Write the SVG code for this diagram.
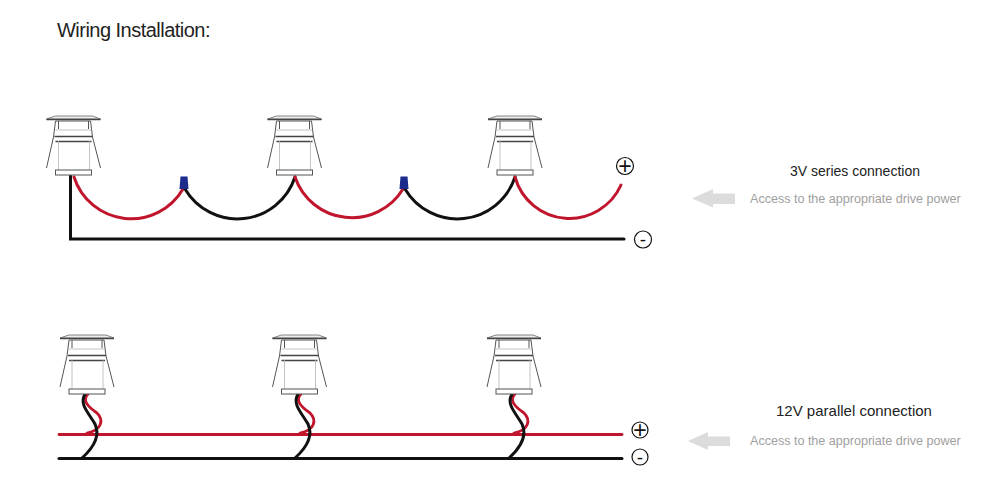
<svg xmlns="http://www.w3.org/2000/svg" width="1000" height="489" viewBox="0 0 1000 489">
<style>
text{font-family:"Liberation Sans",Arial,sans-serif}
.title{font-size:20px;fill:#222;letter-spacing:-.52px}
.head{font-size:14px;fill:#222}
.sub{font-size:12.6px;fill:#a0a0a0;letter-spacing:-.02px}
.plus{font-size:23px;fill:#111;text-anchor:middle}
.minus{font-size:19px;fill:#111;text-anchor:middle}
.ring{fill:#fff;stroke:#111;stroke-width:1.2}
.red{fill:none;stroke:#c0152c;stroke-width:3;stroke-linecap:round}
.blk{fill:none;stroke:#111;stroke-width:3;stroke-linecap:round}
.wr{fill:none;stroke:#c0152c;stroke-width:2.800;stroke-linecap:round}
.wb{fill:none;stroke:#111;stroke-width:3;stroke-linecap:round}
.arrow{fill:#dcdcdc}
.cap{fill:#1c2a8c}
.l1{fill:none;stroke:#555;stroke-width:1}
.l2{fill:none;stroke:#b4b4b4;stroke-width:.8}
.l3{fill:none;stroke:#444;stroke-width:1.300}
</style>
<defs>
<symbol id="lamp" overflow="visible" width="1" height="1">
<path d="M-27 3L-18 0H19L27 3Z" fill="#eee" stroke="#666" stroke-width=".8"/>
<path d="M-27 3.500H27" class="l3"/>
<path d="M-18 5H17" class="l1"/>
<path d="M-18 5L-20 21M17 5L19 21M-15 5V13M15 5V13" class="l1"/>
<path d="M-18 14H18" class="l2"/>
<path d="M-19 20.500H19M-18 25.500H18" class="l3"/>
<path d="M-20 21L-27 52M19 21L27 52" class="l1"/>
<path d="M-15 25V54M16 25V54" class="l2"/>
<rect x="-18" y="54" width="36" height="5" fill="#fff" stroke="#555" stroke-width="1"/>
</symbol>
</defs>
<text class="title" x="57" y="37">Wiring Installation:</text>

<g id="connectors">
<path class="blk" d="M70.500 176V239H624"/>
<path class="red" d="M74 177A60 60 0 0 0 183 189"/>
<path class="blk" d="M185 189A60.700 60.700 0 0 0 295 177"/>
<path class="red" d="M295 177A60 60 0 0 0 403 189"/>
<path class="blk" d="M405 189A60.700 60.700 0 0 0 515 177"/>
<path class="red" d="M515 177A56.500 56.500 0 0 0 621 185"/>
<path class="wb" d="M59 458.500H622"/>
<path class="wr" d="M59 434.500H622"/>
<g id="wires-1">
<path class="wr" d="M88 394C82 400 87 406 97 413C104 420 102 430 87 433"/>
<path class="wb" d="M85 394C79 404 88 412 95 424C101 437 92 449 82 458"/>
</g>
<g id="wires-2">
<path class="wr" d="M301 394C295 400 300 406 310 413C317 420 315 430 300 433"/>
<path class="wb" d="M298 394C292 404 301 412 308 424C314 437 305 449 295 458"/>
</g>
<g id="wires-3">
<path class="wr" d="M515 394C509 400 514 406 524 413C531 420 529 430 514 433"/>
<path class="wb" d="M512 394C506 404 515 412 522 424C528 437 519 449 509 458"/>
</g>
</g>

<g id="lamp-s1"><use href="#lamp" x="73.500" y="116"/></g>
<g id="lamp-s2"><use href="#lamp" x="294.500" y="116"/></g>
<g id="lamp-s3"><use href="#lamp" x="515" y="116"/></g>
<g id="lamp-p1"><use href="#lamp" x="87" y="335"/></g>
<g id="lamp-p2"><use href="#lamp" x="299.500" y="335"/></g>
<g id="lamp-p3"><use href="#lamp" x="514" y="335"/></g>

<g id="cap-1"><path class="cap" d="M180.500 176.500H187.500L188.500 189H179.500Z"/></g>
<g id="cap-2"><path class="cap" d="M400.500 176.500H407.500L408.500 189H399.500Z"/></g>

<g id="plus-s"><circle class="ring" cx="625" cy="166" r="8.500"/><text class="plus" x="625" y="174">+</text></g>
<g id="minus-s"><circle class="ring" cx="643" cy="239.500" r="8.500"/><text class="minus" x="643" y="246">-</text></g>
<g id="plus-p"><circle class="ring" cx="640" cy="430" r="8"/><text class="plus" x="640" y="438">+</text></g>
<g id="minus-p"><circle class="ring" cx="640" cy="457" r="8"/><text class="minus" x="640" y="463.500">-</text></g>

<g id="note-series">
<text class="head" x="790" y="176">3V series connection</text>
<path class="arrow" d="M692 198.500L713 189V193.500H735V204H713V207.500Z"/>
<text class="sub" x="750" y="203">Access to the appropriate drive power</text>
</g>
<g id="note-parallel">
<text class="head" style="font-size:15px" x="776" y="416">12V parallel connection</text>
<path class="arrow" d="M688 441L708 432V436.500H730V446H708V450Z"/>
<text class="sub" x="750" y="445">Access to the appropriate drive power</text>
</g>
</svg>
